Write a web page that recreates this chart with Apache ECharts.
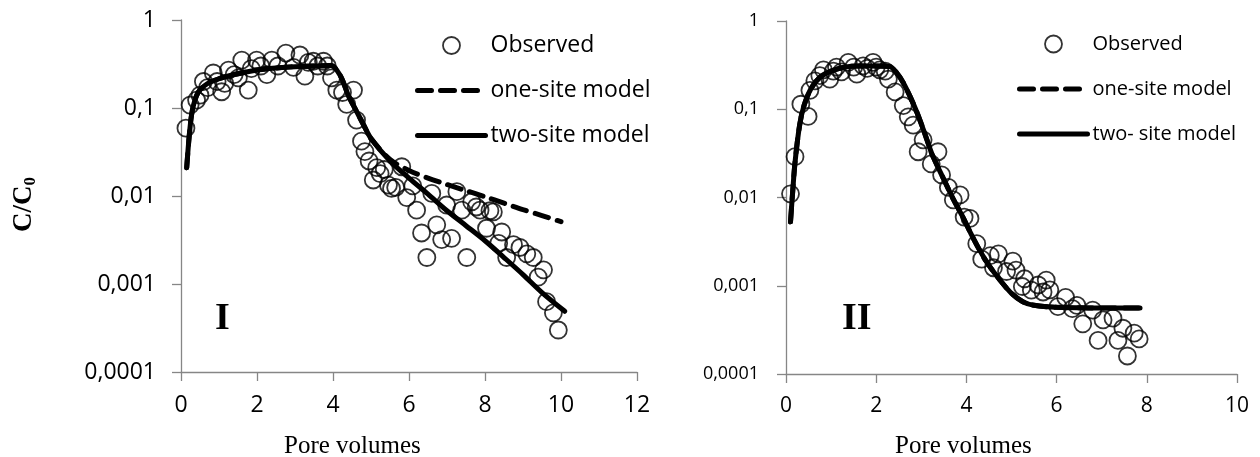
<!DOCTYPE html>
<html>
<head>
<meta charset="utf-8">
<script src="https://cdn.jsdelivr.net/npm/echarts@6/dist/echarts.min.js"></script>
<style>
  html, body { margin: 0; padding: 0; background: #fff; }
  #box { width: 1260px; height: 457px; }
</style>
</head>
<body>
<div id="box"></div>
<script>
// panel I
var obsX1 = [0.13, 0.24, 0.41, 0.5, 0.59, 0.7, 0.85, 0.95, 1.07, 1.15, 1.25, 1.4, 1.51, 1.6, 1.77, 1.85, 1.99, 2.1, 2.26, 2.39, 2.55, 2.76, 2.96, 3.13, 3.26, 3.35, 3.48, 3.6, 3.75, 3.85, 3.96, 4.1, 4.25, 4.36, 4.54, 4.62, 4.75, 4.84, 4.95, 5.06, 5.15, 5.24, 5.35, 5.46, 5.54, 5.65, 5.81, 5.94, 6.1, 6.2, 6.33, 6.47, 6.6, 6.73, 6.86, 6.99, 7.12, 7.26, 7.39, 7.52, 7.65, 7.77, 7.87, 8.04, 8.13, 8.22, 8.36, 8.44, 8.57, 8.75, 8.92, 9.1, 9.27, 9.4, 9.54, 9.62, 9.8, 9.93];
var obsY1 = [0.059, 0.108, 0.123, 0.14, 0.2, 0.17, 0.25, 0.2, 0.153, 0.19, 0.27, 0.24, 0.22, 0.35, 0.16, 0.28, 0.35, 0.3, 0.24, 0.35, 0.3, 0.42, 0.29, 0.4, 0.23, 0.33, 0.34, 0.3, 0.34, 0.3, 0.22, 0.16, 0.15, 0.11, 0.16, 0.073, 0.042, 0.032, 0.025, 0.0152, 0.021, 0.018, 0.02, 0.0133, 0.0122, 0.0125, 0.0215, 0.0096, 0.013, 0.0069, 0.0038, 0.002, 0.0107, 0.0047, 0.0032, 0.0079, 0.0033, 0.0112, 0.0069, 0.002, 0.0086, 0.0075, 0.0069, 0.0043, 0.0068, 0.0066, 0.0029, 0.0039, 0.002, 0.0028, 0.0026, 0.0022, 0.002, 0.0012, 0.00145, 0.00063, 0.00047, 0.0003];
var twoX1 = [0.15, 0.22, 0.3, 0.45, 0.7, 1.0, 1.4, 2.0, 2.5, 3.0, 3.5, 3.95, 4.2, 4.4, 4.6, 4.8, 5.0, 5.5, 6.0, 6.5, 7.0, 7.5, 8.0, 8.5, 9.0, 9.5, 10.1];
var twoY1 = [0.021, 0.05, 0.095, 0.15, 0.19, 0.215, 0.24, 0.27, 0.285, 0.295, 0.3, 0.305, 0.23, 0.14, 0.095, 0.065, 0.045, 0.025, 0.016, 0.0105, 0.0068, 0.0046, 0.0031, 0.002, 0.00128, 0.0008, 0.00049];
var oneX1 = [0.15, 0.22, 0.3, 0.45, 0.7, 1.0, 1.4, 2.0, 2.5, 3.0, 3.5, 3.95, 4.2, 4.4, 4.6, 4.8, 5.0, 5.5, 6.0, 6.5, 7.0, 7.5, 8.0, 8.5, 9.0, 9.5, 10.0];
var oneY1 = [0.021, 0.05, 0.095, 0.15, 0.19, 0.215, 0.24, 0.27, 0.285, 0.295, 0.3, 0.305, 0.23, 0.14, 0.095, 0.065, 0.045, 0.026, 0.0195, 0.016, 0.0135, 0.0115, 0.0098, 0.0083, 0.007, 0.006, 0.0051];

// panel II
var obsX2 = [0.1, 0.2, 0.33, 0.49, 0.53, 0.64, 0.75, 0.83, 0.97, 1.05, 1.12, 1.23, 1.38, 1.5, 1.57, 1.71, 1.8, 1.93, 2.0, 2.08, 2.2, 2.27, 2.42, 2.6, 2.71, 2.82, 2.93, 3.04, 3.22, 3.37, 3.45, 3.6, 3.71, 3.86, 3.95, 4.08, 4.23, 4.34, 4.53, 4.6, 4.71, 4.89, 5.03, 5.1, 5.24, 5.29, 5.44, 5.59, 5.7, 5.77, 5.85, 6.03, 6.2, 6.35, 6.45, 6.58, 6.8, 6.92, 7.03, 7.25, 7.36, 7.47, 7.57, 7.72, 7.83];
var obsY2 = [0.011, 0.029, 0.114, 0.083, 0.164, 0.21, 0.24, 0.28, 0.22, 0.27, 0.3, 0.265, 0.34, 0.3, 0.25, 0.31, 0.29, 0.34, 0.3, 0.28, 0.27, 0.22, 0.157, 0.11, 0.082, 0.066, 0.033, 0.045, 0.024, 0.033, 0.018, 0.013, 0.0094, 0.0107, 0.006, 0.0058, 0.003, 0.002, 0.0022, 0.0016, 0.0023, 0.00145, 0.0019, 0.0015, 0.00098, 0.0012, 0.00089, 0.00102, 0.00085, 0.00116, 0.0009, 0.00058, 0.00074, 0.00055, 0.0006, 0.00037, 0.00053, 0.00024, 0.00041, 0.00043, 0.00024, 0.00033, 0.00016, 0.00029, 0.00025];
var twoX2 = [0.1, 0.15, 0.2, 0.3, 0.4, 0.55, 0.75, 1.0, 1.3, 1.6, 2.0, 2.3, 2.45, 2.6, 2.75, 2.9, 3.05, 3.25, 3.5, 3.7, 3.9, 4.1, 4.3, 4.5, 4.75, 5.0, 5.25, 5.5, 6.0, 7.0, 7.85];
var twoY2 = [0.0053, 0.012, 0.025, 0.065, 0.11, 0.17, 0.23, 0.27, 0.3, 0.31, 0.31, 0.305, 0.26, 0.2, 0.14, 0.093, 0.058, 0.03, 0.016, 0.0098, 0.0063, 0.0039, 0.0025, 0.0017, 0.00115, 0.00082, 0.00066, 0.0006, 0.00057, 0.00056, 0.00056];
var oneX2 = twoX2.slice();
var oneY2 = twoY2.slice();

var yTicks = [1, 0.1, 0.01, 0.001, 0.0001];
var yTickLabels = ['1', '0,1', '0,01', '0,001', '0,0001'];

function pairs(xs, ys) {
    return xs.map(function(x, i) { return [x, ys[i]]; });
}

var chart = echarts.init(document.getElementById('box'));

var axisGray = '#868686';
var txtFont = '"Open Sans", "Liberation Sans", sans-serif';
var dash = [14, 9];

function xAx(idx, max, fs) {
    return {
        type: 'value', gridIndex: idx, min: 0, max: max, interval: 2,
        axisLine: { lineStyle: { color: axisGray, width: 1.3 } },
        axisTick: { show: true, length: 9, lineStyle: { color: axisGray, width: 1.3 } },
        axisLabel: { color: '#000', fontSize: fs, fontFamily: txtFont, margin: 22 },
        splitLine: { show: false }
    };
}
function yAx(idx, fs, margin) {
    return {
        type: 'log', logBase: 10, gridIndex: idx, min: 0.0001, max: 1,
        axisLine: { show: true, lineStyle: { color: axisGray, width: 1.3 } },
        axisTick: { show: true, length: 9, lineStyle: { color: axisGray, width: 1.3 } },
        axisLabel: {
            color: '#000', fontSize: fs, fontFamily: txtFont, margin: margin,
            formatter: function(v) {
                for (var i = 0; i < yTicks.length; i++) {
                    if (Math.abs(Math.log10(v) - Math.log10(yTicks[i])) < 1e-6) return yTickLabels[i];
                }
                return '';
            }
        },
        splitLine: { show: false }
    };
}

function obsSeries(name, idx, xs, ys) {
    return {
        name: name, type: 'scatter', xAxisIndex: idx, yAxisIndex: idx,
        symbol: 'circle', symbolSize: 17, z: 2,
        itemStyle: { color: 'rgba(255,255,255,0)', borderColor: '#000', borderWidth: 1.8 },
        data: pairs(xs, ys)
    };
}
function lineSeries(name, idx, xs, ys, dashed) {
    return {
        name: name, type: 'line', xAxisIndex: idx, yAxisIndex: idx,
        showSymbol: false, symbol: 'none', smooth: 0.3, z: 3,
        lineStyle: { color: '#000', width: 5, type: dashed ? dash : 'solid', cap: 'round' },
        itemStyle: { color: '#000' },
        data: pairs(xs, ys)
    };
}

function legendItems(names) {
    return [
        { name: names[0], itemStyle: { color: 'rgba(255,255,255,0)', borderColor: '#000', borderWidth: 1.8 } },
        { name: names[1], itemStyle: { opacity: 0 }, lineStyle: { color: '#000', width: 5, type: dash } },
        { name: names[2], itemStyle: { opacity: 0 }, lineStyle: { color: '#000', width: 5, type: 'solid' } }
    ];
}

function legendOf(left, fs, gap, names) {
    return {
        orient: 'vertical', left: left, top: 29,
        itemWidth: 68, itemHeight: 17, itemGap: gap,
        textStyle: { color: '#000', fontSize: fs, fontFamily: txtFont, lineHeight: 20 },
        data: legendItems(names)
    };
}

var option = {
    backgroundColor: '#fff',
    animation: false,
    grid: [
        { left: 181, right: 623, top: 20, bottom: 85 },
        { left: 786, right: 23, top: 21, bottom: 83 }
    ],
    xAxis: [xAx(0, 12, 23), xAx(1, 10, 21)],
    yAxis: [yAx(0, 23, 25), yAx(1, 18, 27)],
    legend: [
        legendOf(410, 23, 22, ['Observed', 'one-site model', 'two-site model']),
        legendOf(1012, 20, 25, ['Observed', 'one-site model', 'two- site model'])
    ],
    graphic: [
        { type: 'text', left: 284, top: 434, style: { text: 'Pore volumes', font: '25px "Liberation Serif", serif', fill: '#000' } },
        { type: 'text', left: 895, top: 434, style: { text: 'Pore volumes', font: '25px "Liberation Serif", serif', fill: '#000' } },
        { type: 'text', x: 10, y: 232, rotation: Math.PI / 2,
          style: {
              text: '{a|C/C}{s|0}',
              rich: {
                  a: { font: 'bold 27px "Liberation Serif", serif', fill: '#000' },
                  s: { font: 'bold 17px "Liberation Serif", serif', fill: '#000', padding: [12, 0, 0, 0] }
              }
          } },
        { type: 'text', left: 215, top: 300, style: { text: 'I', font: 'bold 38px "Liberation Serif", serif', fill: '#000' } },
        { type: 'text', left: 842, top: 300, style: { text: 'II', font: 'bold 38px "Liberation Serif", serif', fill: '#000' } }
    ],
    series: [
        obsSeries('Observed', 0, obsX1, obsY1),
        lineSeries('one-site model', 0, oneX1, oneY1, true),
        lineSeries('two-site model', 0, twoX1, twoY1, false),
        obsSeries('Observed', 1, obsX2, obsY2),
        lineSeries('one-site model', 1, oneX2, oneY2, true),
        lineSeries('two- site model', 1, twoX2, twoY2, false)
    ]
};

chart.setOption(option);
</script>
</body>
</html>
